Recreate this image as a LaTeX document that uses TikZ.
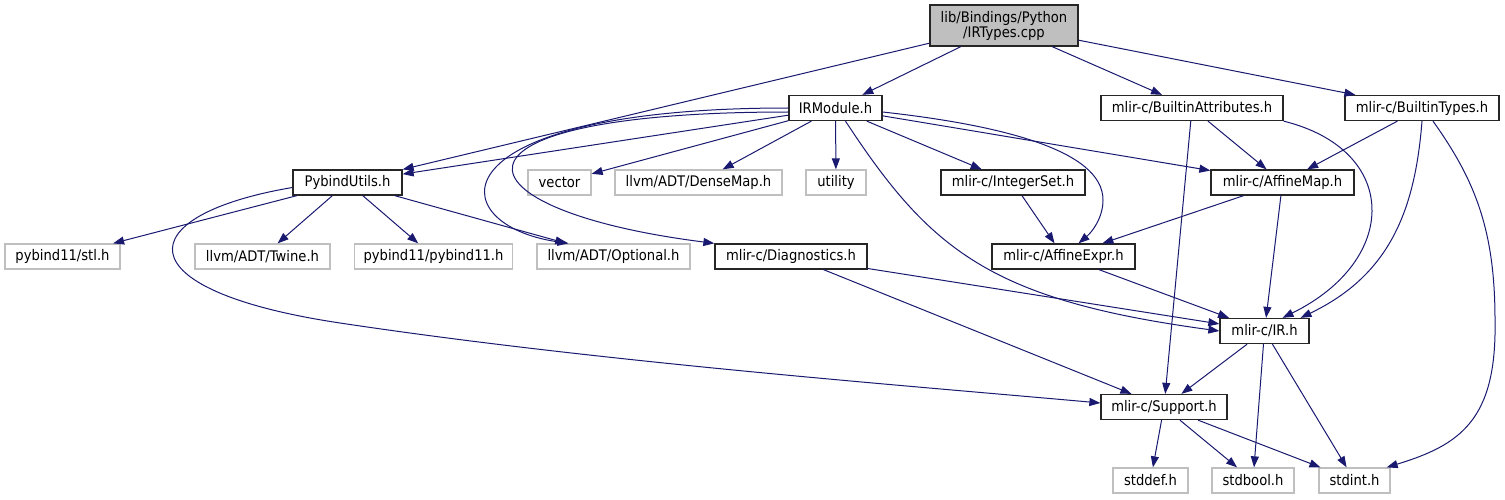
\documentclass[tikz,border=0pt]{standalone}
\usepackage{fontspec}
\setmainfont{DejaVu Sans}[FakeStretch=0.9]
\usepackage{tikz}
\usetikzlibrary{arrows.meta}
\usepackage{xcolor}
\definecolor{edgeblue}{HTML}{191970}
\definecolor{nodegrey}{HTML}{BFBFBF}
\tikzset{
  docnode/.style={
    draw=black!85,
    line width=1.3pt,
    fill=white,
    minimum height=25pt,
    inner sep=0pt,
    font=\fontsize{14.6}{15}\selectfont
  },
  extnode/.style={
    docnode,
    draw=nodegrey
  },
  rootnode/.style={
    docnode,
    fill=nodegrey,
    minimum height=41pt,
    align=center
  },
  dep/.style={
    -{Triangle[length=11pt,width=8pt]},
    line width=1pt,
    draw=edgeblue
  }
}

\begin{document}
\begin{tikzpicture}[x=1pt,y=-1pt]
\useasboundingbox (0,0) rectangle (1505,500);
\node[rootnode, minimum width=148] (root) at (1004,25.5) {lib/Bindings/Python\\/IRTypes.cpp};
\node[docnode, minimum width=93] (irmodule) at (835.5,108) {IRModule.h};
\node[docnode, minimum width=182] (attrs) at (1192,108) {mlir-c/BuiltinAttributes.h};
\node[docnode, minimum width=154] (types) at (1422,108) {mlir-c/BuiltinTypes.h};
\node[docnode, minimum width=109] (pybind) at (347.5,182.5) {PybindUtils.h};
\node[extnode, minimum width=63] (vector) at (559.5,182.5) {vector};
\node[extnode, minimum width=167] (densemap) at (698.5,182.5) {llvm/ADT/DenseMap.h};
\node[extnode, minimum width=60] (utility) at (836,182.5) {utility};
\node[docnode, minimum width=144] (intset) at (1013,182.5) {mlir-c/IntegerSet.h};
\node[docnode, minimum width=143] (affmap) at (1282.5,182.5) {mlir-c/AffineMap.h};
\node[extnode, minimum width=115] (stl) at (62.5,256.5) {pybind11/stl.h};
\node[extnode, minimum width=135] (twine) at (262.5,256.5) {llvm/ADT/Twine.h};
\node[extnode, minimum width=158] (pybind11) at (433.5,256.5) {pybind11/pybind11.h};
\node[extnode, minimum width=153] (optional) at (613.5,256.5) {llvm/ADT/Optional.h};
\node[docnode, minimum width=152] (diag) at (791,256.5) {mlir-c/Diagnostics.h};
\node[docnode, minimum width=143] (affexpr) at (1063.5,256.5) {mlir-c/AffineExpr.h};
\node[docnode, minimum width=89] (ir) at (1264.5,331) {mlir-c/IR.h};
\node[docnode, minimum width=126] (support) at (1164,407) {mlir-c/Support.h};
\node[extnode, minimum width=75] (stddef) at (1150.5,480.5) {stddef.h};
\node[extnode, minimum width=82] (stdbool) at (1253,480.5) {stdbool.h};
\node[extnode, minimum width=71] (stdint) at (1354.5,480.5) {stdint.h};
% includes of the source file
\draw[dep] (root) -- (pybind);
\draw[dep] (root) -- (irmodule);
\draw[dep] (root) -- (attrs);
\draw[dep] (root) -- (types);
% IRModule.h
\draw[dep] (irmodule) -- (pybind);
\draw[dep] (irmodule) -- (vector);
\draw[dep] (irmodule) -- (densemap);
\draw[dep] (irmodule) -- (utility);
\draw[dep] (irmodule) -- (intset);
\draw[dep] (irmodule) -- (affmap);
\draw[dep] (irmodule.west) .. controls (430,108) and (440,225) .. ([xshift=-45pt]optional.north);
\draw[dep] ([yshift=-4pt]irmodule.west) .. controls (420,112) and (450,210) .. (diag.north west);
\draw[dep] ([yshift=-4pt]irmodule.east) .. controls (1000,125) and (1103,150) .. (1103,200) .. controls (1103,218) and (1092,232) .. ([xshift=15pt]affexpr.north);
\draw[dep] ([xshift=10pt]irmodule.south) .. controls (930,250) and (990,300) .. (ir.west);
% builtin headers
\draw[dep] (attrs) -- (affmap);
\draw[dep] (attrs) -- (support);
\draw[dep] (attrs.south east) .. controls (1400,150) and (1400,260) .. ([xshift=18pt]ir.north);
\draw[dep] (types) -- (affmap);
\draw[dep] (types.south) .. controls (1415,210) and (1390,275) .. ([xshift=36pt]ir.north);
\draw[dep] ([xshift=11pt]types.south) .. controls (1475,180) and (1495,230) .. (1495,320) .. controls (1497,420) and (1460,445) .. ([xshift=-4pt]stdint.north east);
% PybindUtils.h
\draw[dep] (pybind) -- (stl);
\draw[dep] (pybind) -- (twine);
\draw[dep] (pybind) -- (pybind11);
\draw[dep] (pybind) -- (optional);
\draw[dep] ([yshift=-5pt]pybind.west) .. controls (130,215) and (120,290) .. (340,323) .. controls (600,362) and (900,385) .. ([yshift=4pt]support.west);
% mlir-c headers
\draw[dep] (intset) -- (affexpr);
\draw[dep] (affmap) -- (affexpr);
\draw[dep] (affmap) -- (ir);
\draw[dep] (diag) -- (ir);
\draw[dep] (diag) -- (support);
\draw[dep] (affexpr) -- (ir);
\draw[dep] (ir) -- (support);
\draw[dep] (ir) -- (stdbool);
\draw[dep] (ir) -- (stdint);
\draw[dep] (support) -- (stddef);
\draw[dep] (support) -- (stdbool);
\draw[dep] (support) -- (stdint);
\end{tikzpicture}
\end{document}
